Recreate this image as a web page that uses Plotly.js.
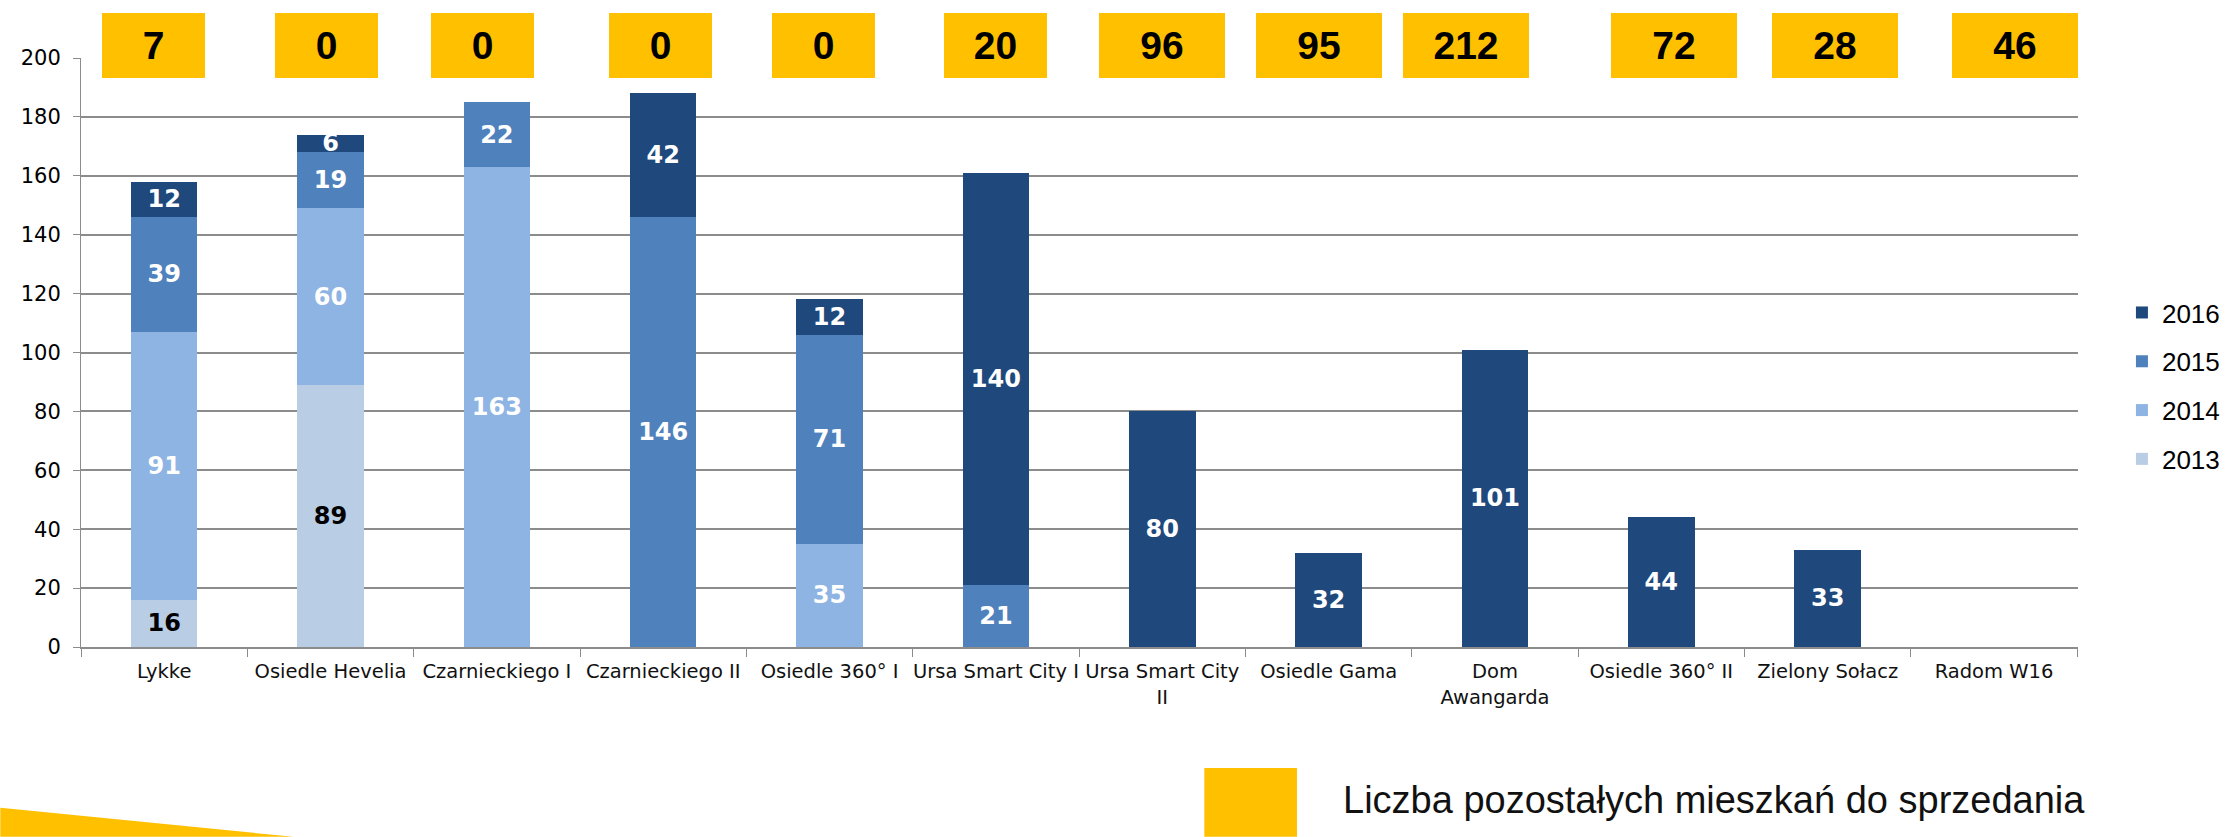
<!DOCTYPE html>
<html>
<head>
<meta charset="utf-8">
<script src="https://cdn.plot.ly/plotly-3.0.1.min.js"></script>
<style>
html, body { margin: 0; padding: 0; background: #fff; }
#chart { width: 2237px; height: 837px; }
</style>
</head>
<body>
<div id="chart"></div>
<script>
// projects on the x axis
var categories = ['Lykke', 'Osiedle Hevelia', 'Czarnieckiego I', 'Czarnieckiego II',
    'Osiedle 360° I', 'Ursa Smart City I', 'Ursa Smart City<br>II', 'Osiedle Gama',
    'Dom<br>Awangarda', 'Osiedle 360° II', 'Zielony Sołacz', 'Radom W16'];

// flats sold per year (stacked)
var sold2013 = [16, 89, 0, 0, 0, 0, 0, 0, 0, 0, 0, 0];
var sold2014 = [91, 60, 163, 0, 35, 0, 0, 0, 0, 0, 0, 0];
var sold2015 = [39, 19, 22, 146, 71, 21, 0, 0, 0, 0, 0, 0];
var sold2016 = [12, 6, 0, 42, 12, 140, 80, 32, 101, 44, 33, 0];

// flats still left to sell (yellow boxes on top)
var remaining = [7, 0, 0, 0, 0, 20, 96, 95, 212, 72, 28, 46];

var yellow = '#FFC000';
var grid = '#8c8c8c';
var font = 'Liberation Sans, Arial, sans-serif';
var wide = 'DejaVu Sans, sans-serif';

function series(name, vals, color, txtColor, rank) {
    return {
        type: 'bar',
        name: name,
        legendgroup: name,
        legendrank: rank,
        x: categories,
        y: vals.map(function (v) { return v ? v : null; }),
        text: vals.map(function (v) { return v ? String(v) : ''; }),
        textposition: 'inside',
        insidetextanchor: 'middle',
        constraintext: 'none',
        textangle: 0,
        textfont: {family: wide, size: 24, color: txtColor, weight: 'bold'},
        marker: {color: color},
        hoverinfo: 'x+y+name'
    };
}

var data = [
    series('2013', sold2013, '#B9CDE5', '#000', 4),
    series('2014', sold2014, '#8EB4E3', '#fff', 3),
    series('2015', sold2015, '#4F81BD', '#fff', 2),
    series('2016', sold2016, '#1F497D', '#fff', 1)
];

// the yellow boxes were placed by hand, so they sit a bit off the bar centres
var boxShift = [-11, -4, -14, -3, -6, 0, 0, -10, -29, 13, 7, 21];

var annotations = remaining.map(function (v, i) {
    return {
        x: categories[i], xref: 'x', xshift: boxShift[i],
        y: 1.022, yref: 'paper', yanchor: 'middle',
        text: '<b>' + v + '</b>',
        showarrow: false,
        bgcolor: yellow,
        borderpad: 0, borderwidth: 0,
        width: i < 6 ? 103 : 126,
        height: 65,
        font: {family: font, size: 39, color: '#000'}
    };
});

annotations.push({
    x: 0.6308, xref: 'paper', xanchor: 'left',
    y: -0.2595, yref: 'paper', yanchor: 'middle',
    text: 'Liczba pozostałych mieszkań do sprzedania',
    showarrow: false,
    font: {family: font, size: 38, color: '#111'}
});

var layout = {
    width: 2237,
    height: 837,
    margin: {l: 81, r: 149, t: 58, b: 190},
    paper_bgcolor: '#fff',
    plot_bgcolor: '#fff',
    barmode: 'stack',
    bargap: 0.6,
    font: {family: font, color: '#000'},
    showlegend: true,
    legend: {
        x: 1.022, xanchor: 'left',
        y: 0.443, yanchor: 'middle',
        traceorder: 'grouped',
        tracegroupgap: 12,
        font: {family: font, size: 26, color: '#000'}
    },
    xaxis: {
        type: 'category',
        showline: true, linecolor: grid, linewidth: 2,
        ticks: 'outside', tickson: 'boundaries', ticklen: 8, tickcolor: grid,
        showgrid: false,
        tickangle: 0,
        tickfont: {family: wide, size: 19.5, color: '#111'},
        ticklabelstandoff: 6
    },
    yaxis: {
        range: [0, 200],
        dtick: 20,
        showline: true, linecolor: grid, linewidth: 1,
        ticks: 'outside', ticklen: 7, tickcolor: grid,
        gridcolor: grid, gridwidth: 1.5,
        zeroline: false,
        tickfont: {family: wide, size: 21, color: '#000'},
        ticklabelstandoff: 8
    },
    shapes: [
        {   // yellow legend square at the bottom
            type: 'rect', xref: 'paper', yref: 'paper',
            x0: 0.5625, x1: 0.6089, y0: -0.2053, y1: -0.3223,
            fillcolor: yellow, line: {width: 0}
        },
        {   // yellow wedge bottom left
            type: 'path', xref: 'paper', yref: 'paper',
            path: 'M -0.0404 -0.2731 L 0.1066 -0.3223 L -0.0404 -0.3223 Z',
            fillcolor: yellow, line: {width: 0}
        }
    ],
    annotations: annotations
};

Plotly.newPlot('chart', data, layout, {displayModeBar: false});
</script>
</body>
</html>
